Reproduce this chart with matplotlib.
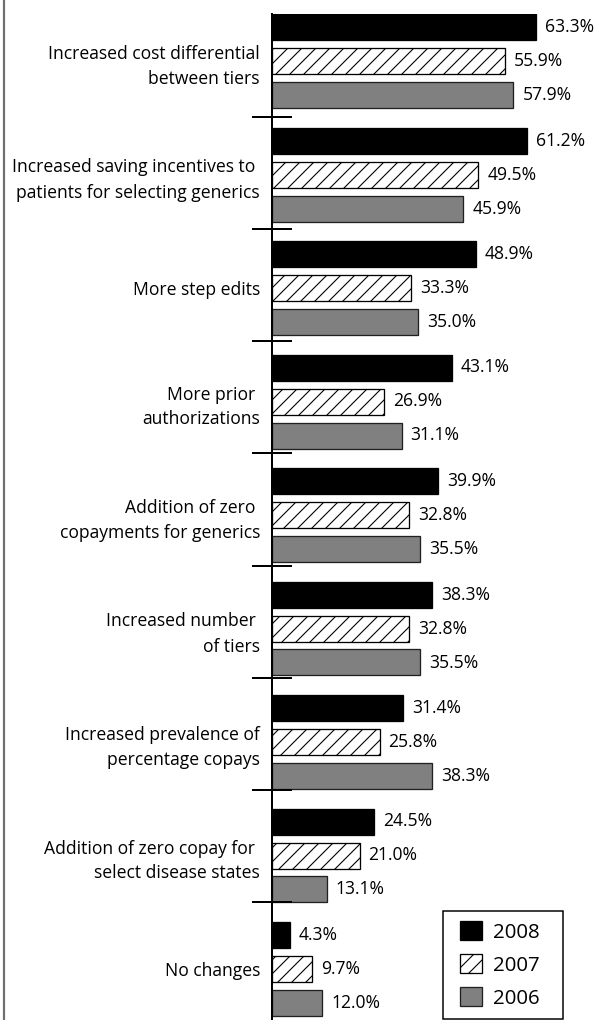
import numpy as np
import matplotlib
matplotlib.use('Agg')
import matplotlib.pyplot as plt
from matplotlib.lines import Line2D
from matplotlib.patches import Rectangle
from matplotlib.container import BarContainer
from matplotlib.legend_handler import HandlerPatch, update_from_first_child

categories = [
    "Increased cost differential\nbetween tiers",
    "Increased saving incentives to \npatients for selecting generics",
    "More step edits",
    "More prior \nauthorizations",
    "Addition of zero \ncopayments for generics",
    "Increased number \nof tiers",
    "Increased prevalence of\npercentage copays",
    "Addition of zero copay for \nselect disease states",
    "No changes",
]
series_labels = ["2008", "2007", "2006"]
v2008 = [63.3, 61.2, 48.9, 43.1, 39.9, 38.3, 31.4, 24.5, 4.3]
v2007 = [55.9, 49.5, 33.3, 26.9, 32.8, 32.8, 25.8, 21.0, 9.7]
v2006 = [57.9, 45.9, 35.0, 31.1, 35.5, 35.5, 38.3, 13.1, 12.0]

DPI = 84
W, H = 601, 1020


def px2pt(px):
    return px * 72 / DPI


plt.rcParams['font.family'] = ['Open Sans', 'DejaVu Sans']
plt.rcParams['hatch.linewidth'] = px2pt(1.1)

fig = plt.figure(figsize=(W / DPI, H / DPI), dpi=DPI)
ax_left = 272 / W
ax_top = 14 / H
ax = fig.add_axes([ax_left, 0, 1 - ax_left, 1 - ax_top])

group_px = 113.5
bar_px = 26
step_px = 34
n = len(categories)
y = np.arange(n)
off = step_px / group_px
h = bar_px / group_px

styles = [dict(color='black', edgecolor='black'),
          dict(color='white', edgecolor='black', hatch='//'),
          dict(color='#808080', edgecolor='#202020')]
series = [v2008, v2007, v2006]
fs = px2pt(17.5)
for j, (vals, lab, st) in enumerate(zip(series, series_labels, styles)):
    bars = ax.barh(y + (j - 1) * off, vals, height=h, label=lab,
                   linewidth=px2pt(1.3), **st)
    ax.bar_label(bars, labels=[f"{v:.1f}%" for v in vals],
                 padding=px2pt(9), fontsize=fs)

xscale = 4.17  # px per percent
ax.set_xlim(0, (W - 272) / xscale)
top = -off - h / 2
ax.set_ylim(top + (H - 14) / group_px, top)

tick_pitch = 0.988
ax.set_yticks((np.arange(n - 1) + 0.5) * tick_pitch)
ax.set_yticklabels([])
ax.set_yticks(y, labels=categories, minor=True)
ax.tick_params(axis='y', which='major', direction='inout', length=px2pt(40),
               width=px2pt(2), color='black')
ax.tick_params(axis='y', which='minor', length=0, pad=px2pt(12), labelsize=fs)
for t in ax.get_yticklabels(minor=True):
    t.set_linespacing(1.5)
    t.set_multialignment('right')

for s in ['top', 'right', 'bottom']:
    ax.spines[s].set_visible(False)
ax.spines['left'].set_linewidth(px2pt(2))
ax.set_xticks([])


def legend_patch(legend, orig_handle, xdescent, ydescent, width, height, fontsize):
    return Rectangle((-xdescent + px2pt(7), -ydescent), px2pt(22), height)


lfs = 20.5
leg = ax.legend(loc='lower left',
                bbox_to_anchor=(443 / W, 1 - 1019 / H, 120 / W, 106 / H),
                bbox_transform=fig.transFigure, mode='expand', borderaxespad=0,
                fontsize=px2pt(lfs), frameon=True, fancybox=False,
                edgecolor='black', framealpha=1,
                handlelength=29 / lfs, handleheight=22 / lfs,
                handletextpad=11 / lfs, labelspacing=0.56, borderpad=0.5,
                handler_map={BarContainer: HandlerPatch(
                    patch_func=legend_patch,
                    update_func=update_from_first_child)})
leg.get_frame().set_linewidth(px2pt(1.5))

fig.add_artist(Line2D([3.5 / W, 3.5 / W], [0, 1], color='#707070',
                      linewidth=px2pt(2.2), transform=fig.transFigure))

fig.savefig('out.png', dpi=DPI)
